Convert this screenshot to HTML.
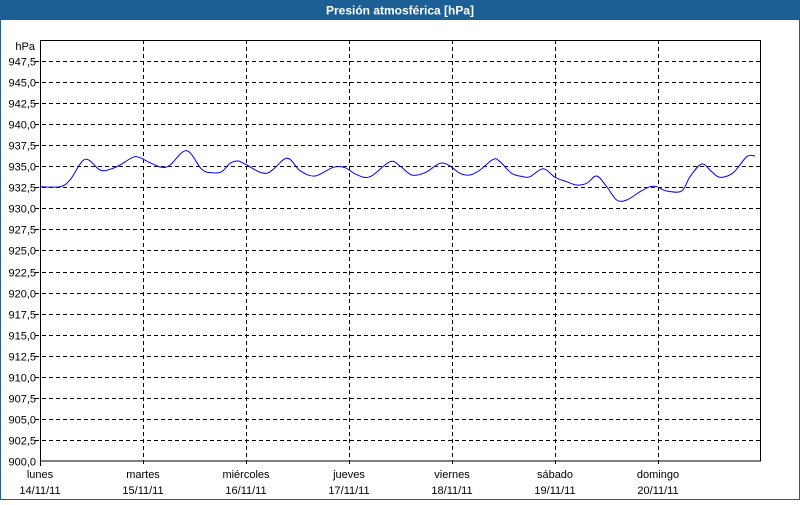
<!DOCTYPE html>
<html><head><meta charset="utf-8"><style>
body{margin:0;width:800px;height:500px;overflow:hidden;background:#fff}
</style></head><body>
<svg width="800" height="500" xmlns="http://www.w3.org/2000/svg" font-family="Liberation Sans, sans-serif" font-size="11">
<rect x="0.5" y="0.5" width="799" height="499" fill="#fff" stroke="#1c5f94"/>
<rect x="0" y="0" width="800" height="20" fill="#1c5f94"/>
<text x="400" y="14.5" fill="#fff" font-weight="bold" font-size="12" text-anchor="middle">Presión atmosférica [hPa]</text>
<g stroke="#000" stroke-dasharray="4,3" stroke-width="1">
<line x1="143.5" y1="40" x2="143.5" y2="466"/><line x1="246.5" y1="40" x2="246.5" y2="466"/><line x1="349.5" y1="40" x2="349.5" y2="466"/><line x1="452.5" y1="40" x2="452.5" y2="466"/><line x1="555.5" y1="40" x2="555.5" y2="466"/><line x1="658.5" y1="40" x2="658.5" y2="466"/>
</g>
<g id="h" stroke="#000" stroke-dasharray="4,3"></g>
<rect x="40.5" y="40.5" width="720" height="420.5" fill="none" stroke="#000"/>
<line x1="40.5" y1="461" x2="40.5" y2="466" stroke="#000"/>
<g id="yl" text-anchor="end" fill="#000"></g>
<text x="35" y="50" text-anchor="end">hPa</text>
<g text-anchor="middle" fill="#000">
<text x="40" y="478">lunes</text><text x="40" y="494">14/11/11</text>
<text x="143" y="478">martes</text><text x="143" y="494">15/11/11</text>
<text x="246" y="478">miércoles</text><text x="246" y="494">16/11/11</text>
<text x="349" y="478">jueves</text><text x="349" y="494">17/11/11</text>
<text x="452" y="478">viernes</text><text x="452" y="494">18/11/11</text>
<text x="555" y="478">sábado</text><text x="555" y="494">19/11/11</text>
<text x="658" y="478">domingo</text><text x="658" y="494">20/11/11</text>
</g>
<path id="c" fill="none" stroke="#0000ff" stroke-width="1" d=""/>
</svg>
<script>
var h=document.getElementById('h'),yl=document.getElementById('yl');
for(var i=0;i<20;i++){var y=Math.round(61+i*21.05)+0.5;var v=(947.5-2.5*i).toFixed(1).replace('.',',');
if(i<19){var l=document.createElementNS('http://www.w3.org/2000/svg','line');l.setAttribute('x1',35);l.setAttribute('x2',760);l.setAttribute('y1',y);l.setAttribute('y2',y);h.appendChild(l);}
var t=document.createElementNS('http://www.w3.org/2000/svg','text');t.setAttribute('x',36);t.setAttribute('y',y+4);t.textContent=v;yl.appendChild(t);}
var p=[[40,186.7],[60,186.7],[70,180],[85,159.3],[100,170],[110,169.3],[120,165],[133,157.3],[140,157.7],[150,162.7],[161.7,167.3],[170,165],[186.7,150.7],[201.7,169.3],[211.7,172.7],[221.7,171.7],[230,163.3],[238.3,161],[246.7,165],[266.7,173.3],[286.7,158.3],[300,170.7],[315,176],[333.3,167.3],[345,167.7],[356.7,174.7],[370,176.7],[390,161.7],[400,166],[411.7,175],[425,172.7],[440,163.3],[450,166],[460,173.3],[470,175],[480,170],[493.3,159.3],[500,161.7],[511.7,173.3],[523.3,176.7],[530,176.7],[543.3,168.7],[555,177.3],[566.7,181.7],[576.7,185],[586.7,183.3],[596.7,176],[606.7,186.7],[616.7,200],[626.7,200],[640,191.7],[650,186.7],[656.7,186.7],[666.7,191],[681.7,191],[690,176.7],[701.7,164],[711.7,171.7],[720,177.3],[733.3,172.7],[746.7,156.7],[755,156]];
var d='M'+p[0][0]+','+p[0][1];
for(var k=0;k<p.length-1;k++){var a=p[Math.max(k-1,0)],b=p[k],c=p[k+1],e=p[Math.min(k+2,p.length-1)];
d+=' C'+(b[0]+(c[0]-a[0])/6)+','+(b[1]+(c[1]-a[1])/6)+' '+(c[0]-(e[0]-b[0])/6)+','+(c[1]-(e[1]-b[1])/6)+' '+c[0]+','+c[1];}
document.getElementById('c').setAttribute('d',d);
</script>
</body></html>
